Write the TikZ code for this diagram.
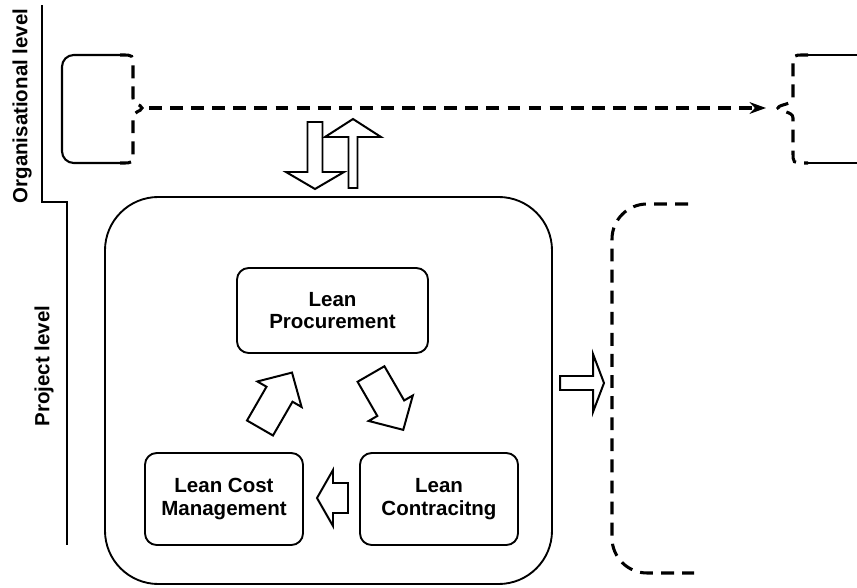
\documentclass[tikz,border=0pt]{standalone}
\usepackage{fontspec}
\setmainfont{Liberation Sans}
\usetikzlibrary{arrows.meta}

\begin{document}
\begin{tikzpicture}[x=0.03cm,y=-0.03cm,
    lbl/.style={font=\fontsize{17.5}{19}\selectfont\bfseries},
    proc/.style={draw,line width=1.6pt,rounded corners=10pt,align=center,lbl},
    solidedge/.style={line width=1.8pt},
    dashedge/.style={line width=2.6pt,dash pattern=on 11pt off 7pt},
    fat/.style={draw,line width=1.7pt,fill=white},
    pics/fatarrow/.style n args={4}{code={
      \path[fat] (0,-#2) -- ({#1-#4},-#2) -- ({#1-#4},-#3) -- (#1,0) -- ({#1-#4},#3) -- ({#1-#4},#2) -- (0,#2) -- cycle;
    }}]
  \useasboundingbox (0,0) rectangle (857,588);

  \node[lbl,rotate=90] (orglevel) at (22,106) {Organisational level};
  \node[lbl,rotate=90] (projlevel) at (44,366) {Project level};
  \draw[solidedge] (42,5) |- (67,202) -- (67,545);

  % organisational level
  \coordinate (orgL) at (149,108);
  \coordinate (orgR) at (766,108);
  \draw[solidedge,rounded corners=10pt] (120,55) -| (62,163) -- (120,163);
  \draw[dashedge] (120,55) -- (122,55) .. controls (133,55) .. (133,66) -- (133,98)
    .. controls (133,105) and (141,104) .. (142,108) .. controls (141,112) and (133,111) .. (133,118)
    -- (133,152) .. controls (133,163) .. (122,163) -- (120,163);
  \draw[solidedge] (808,55) -- (857,55) (808,163) -- (857,163);
  \draw[dashedge] (808,55) -- (804,55) .. controls (793,55) .. (793,66) -- (793,98)
    .. controls (793,105) and (779,104) .. (778,108) .. controls (779,112) and (793,111) .. (793,118)
    -- (793,152) .. controls (793,163) .. (804,163) -- (808,163);
  \draw[dashedge,-{Stealth[length=14pt,width=10pt]}] (orgL) -- (orgR);

  % project level
  \node[draw,line width=1.6pt,rounded corners=1.6cm,minimum width=13.41cm,minimum height=11.61cm] (proj) at (328.5,390.5) {};
  \node[proc,minimum width=5.73cm,minimum height=2.55cm] (procure) at (332.5,310.5) {Lean\\Procurement};
  \node[proc,minimum width=4.74cm,minimum height=2.76cm] (cost) at (224,499) {Lean Cost\\Management};
  \node[proc,minimum width=4.74cm,minimum height=2.76cm] (contract) at (439,499) {Lean\\Contracitng};
  \draw[dashedge,rounded corners=30pt] (688,204) -| (612,573) -- (694,573);

  \foreach \px/\py/\ang/\len/\sh/\hd/\hl in {315/122/-90/67/7.5/29/17, 353/188/90/69/4.5/28/18,
      260/428/60/64/15/25.5/25, 371/374/-60/64.5/15.5/25.5/25, 348/498/180/31/15/28/16, 560/383/0/44/7/29/11}
    \pic[rotate=\ang] at (\px,\py) {fatarrow={\len}{\sh}{\hd}{\hl}};
\end{tikzpicture}
\end{document}
